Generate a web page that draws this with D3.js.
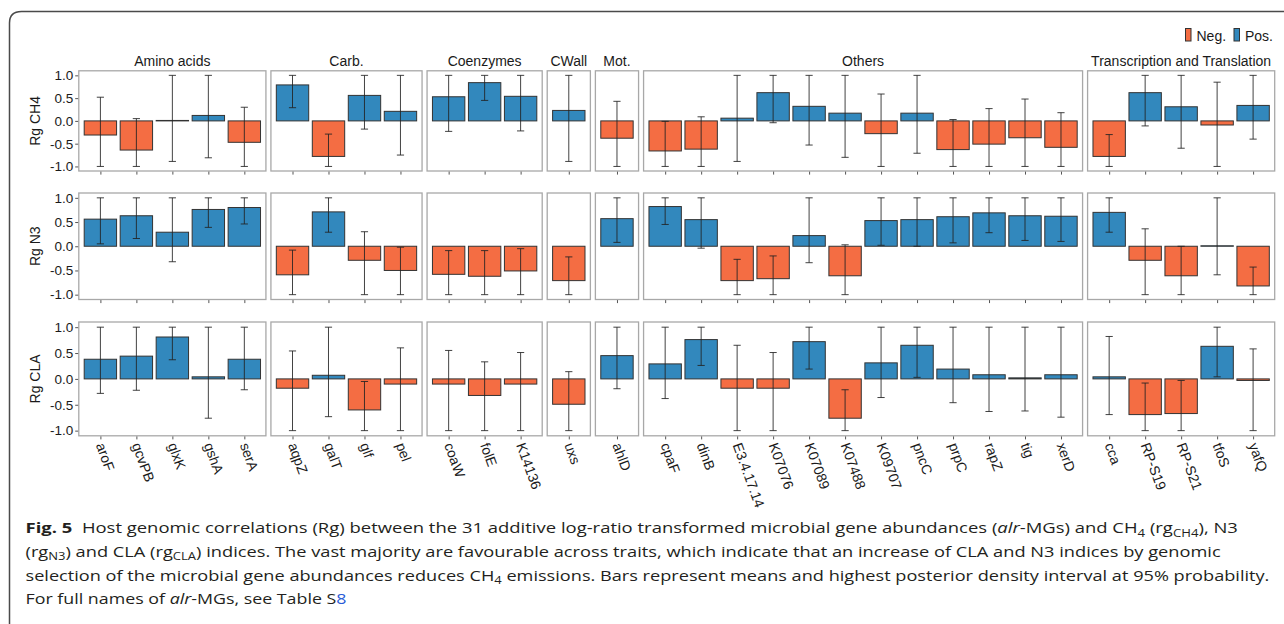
<!DOCTYPE html>
<html>
<head>
<meta charset="utf-8">
<script src="https://cdn.jsdelivr.net/npm/d3@7"></script>
<style>
  body { margin: 0; background: #fff; }
  svg { display: block; }
</style>
</head>
<body>
<svg id="chart" width="1284" height="624"></svg>
<script>
// ---- data -------------------------------------------------------------
const groups = ["Amino acids", "Carb.", "Coenzymes", "CWall", "Mot.", "Others", "Transcription and Translation"];
const groupSizes = [5, 4, 3, 1, 1, 12, 5];
const genes = ["aroF", "gcvPB", "glxK", "gshA", "serA",
  "aqpZ", "galT", "glf", "pel",
  "coaW", "folE", "K14136",
  "uxs",
  "ahlD",
  "cpaF", "dinB", "E3.4.17.14", "K07076", "K07089", "K07488", "K09707", "pncC", "prpC", "rapZ", "tig", "xerD",
  "cca", "RP-S19", "RP-S21", "tfoS", "yafQ"];
const traits = ["Rg CH4", "Rg N3", "Rg CLA"];
const yTicks = [-1.0, -0.5, 0.0, 0.5, 1.0];
const legendLabels = ["Neg.", "Pos."];

// posterior means and 95% HPD bounds, per gene
const rgCH4   = [-0.31, -0.64, 0.01, 0.12, -0.47,  0.79, -0.78, 0.56, 0.21,  0.53, 0.84, 0.54,  0.23,  -0.38,
  -0.66, -0.62, 0.06, 0.62, 0.32, 0.17, -0.28, 0.17, -0.63, -0.51, -0.37, -0.58,  -0.78, 0.62, 0.31, -0.09, 0.34];
const lowCH4  = [-1.00, -1.00, -0.89, -0.81, -1.00,  0.29, -1.00, -0.18, -0.75,  -0.23, 0.45, -0.22,  -0.89,  -1.00,
  -1.00, -1.00, -0.89, -0.04, -0.53, -0.80, -1.00, -0.71, -1.00, -1.00, -1.00, -1.00,  -1.00, -0.11, -0.60, -1.00, -0.40];
const highCH4 = [0.52, 0.05, 1.00, 1.00, 0.30,  1.00, -0.29, 1.00, 1.00,  1.00, 1.00, 1.00,  1.00,  0.43,
  -0.01, 0.09, 1.00, 1.00, 1.00, 1.00, 0.59, 1.00, 0.03, 0.27, 0.48, 0.18,  -0.30, 1.00, 1.00, 0.85, 1.00];

const rgN3   = [0.56, 0.63, 0.29, 0.76, 0.80,  -0.59, 0.71, -0.29, -0.50,  -0.58, -0.62, -0.51,  -0.71,  0.57,
  0.82, 0.55, -0.71, -0.67, 0.22, -0.61, 0.53, 0.55, 0.61, 0.69, 0.63, 0.62,  0.70, -0.29, -0.61, 0.01, -0.82];
const lowN3  = [0.05, 0.16, -0.32, 0.39, 0.46,  -1.00, 0.29, -1.00, -1.00,  -1.00, -1.00, -1.00,  -1.00,  0.08,
  0.45, -0.04, -1.00, -1.00, -0.34, -1.00, 0.02, 0.00, 0.07, 0.28, 0.12, 0.10,  0.29, -1.00, -1.00, -0.59, -1.00];
const highN3 = [1.00, 1.00, 1.00, 1.00, 1.00,  -0.08, 1.00, 0.30, -0.02,  -0.09, -0.09, -0.05,  -0.22,  1.00,
  1.00, 1.00, -0.27, -0.20, 1.00, 0.03, 1.00, 1.00, 1.00, 1.00, 1.00, 1.00,  1.00, 0.36, 0.00, 1.00, -0.43];

const rgCLA   = [0.38, 0.44, 0.81, 0.04, 0.38,  -0.18, 0.07, -0.60, -0.10,  -0.10, -0.32, -0.10,  -0.49,  0.45,
  0.29, 0.76, -0.18, -0.18, 0.72, -0.76, 0.31, 0.65, 0.19, 0.08, 0.02, 0.08,  0.04, -0.69, -0.67, 0.63, -0.03];
const lowCLA  = [-0.28, -0.22, 0.37, -0.76, -0.21,  -1.00, -0.73, -1.00, -1.00,  -1.00, -1.00, -1.00,  -1.00,  -0.19,
  -0.38, 0.26, -1.00, -1.00, 0.19, -1.00, -0.36, 0.03, -0.46, -0.63, -0.62, -0.74,  -0.69, -1.00, -1.00, 0.04, -1.00];
const highCLA = [1.00, 1.00, 1.00, 1.00, 1.00,  0.54, 1.00, -0.05, 0.60,  0.55, 0.33, 0.51,  0.14,  1.00,
  1.00, 1.00, 0.65, 0.51, 1.00, -0.21, 1.00, 1.00, 1.00, 1.00, 1.00, 1.00,  0.82, -0.08, -0.03, 1.00, 0.58];

const means = [rgCH4, rgN3, rgCLA];
const lows  = [lowCH4, lowN3, lowCLA];
const highs = [highCH4, highN3, highCLA];

// ---- layout & style ----------------------------------------------------
const colNeg = "#f46d43", colPos = "#3288bd";
const plotLeft = 78.8, plotRight = 1274.7, panelGap = 5;
const rowBoxes = [[70.8, 171], [193, 299.5], [322, 435.8]];
const plotFont = "'Liberation Sans', Arial, sans-serif";
const captionFont = "'Open Sans', 'Noto Sans', sans-serif";

const svg = d3.select("#chart");

// outer frame (left and top edges with a rounded corner)
svg.append("path")
  .attr("d", "M9.5,624 V23 Q9.5,11.5 21.5,11.5 H1284")
  .attr("fill", "none").attr("stroke", "#4a4a4a").attr("stroke-width", 1.5);

const totalUnits = d3.sum(groupSizes, n => n + 0.2);
const step = (plotRight - plotLeft - panelGap * (groupSizes.length - 1)) / totalUnits;
const barW = step * 0.9;
const capW = step * 0.2;

let cursor = plotLeft;
const panels = groups.map((name, i) => {
  const start = d3.sum(groupSizes.slice(0, i));
  const members = genes.slice(start, start + groupSizes[i]);
  const w = step * (groupSizes[i] + 0.2);
  const p = { name, members, start, x0: cursor, x1: cursor + w };
  p.x = d3.scalePoint().domain(members).range([p.x0, p.x1]).padding(0.6);
  cursor += w + panelGap;
  return p;
});

traits.forEach((trait, r) => {
  const [top, bottom] = rowBoxes[r];
  const y = d3.scaleLinear().domain([-1.1, 1.1]).range([bottom, top]);
  const row = svg.append("g").attr("class", "row");

  panels.forEach((p, pi) => {
    const g = row.append("g");
    g.append("rect")
      .attr("x", p.x0).attr("y", top)
      .attr("width", p.x1 - p.x0).attr("height", bottom - top)
      .attr("fill", "#fff");

    const rows = p.members.map((gene, k) => ({
      gene,
      v: means[r][p.start + k],
      lo: lows[r][p.start + k],
      hi: highs[r][p.start + k]
    }));

    g.selectAll("rect.bar").data(rows).join("rect")
      .attr("class", "bar")
      .attr("x", d => p.x(d.gene) - barW / 2)
      .attr("width", barW)
      .attr("y", d => Math.min(y(d.v), y(0)))
      .attr("height", d => Math.abs(y(d.v) - y(0)))
      .attr("fill", d => d.v < 0 ? colNeg : colPos)
      .attr("stroke", "#333").attr("stroke-width", 1);

    const eb = g.selectAll("g.err").data(rows).join("g")
      .attr("class", "err")
      .attr("stroke", "#222").attr("stroke-width", 1).attr("stroke-opacity", 0.85);
    eb.append("line")
      .attr("x1", d => p.x(d.gene)).attr("x2", d => p.x(d.gene))
      .attr("y1", d => y(d.lo)).attr("y2", d => y(d.hi));
    eb.append("line")
      .attr("x1", d => p.x(d.gene) - capW / 2).attr("x2", d => p.x(d.gene) + capW / 2)
      .attr("y1", d => y(d.lo)).attr("y2", d => y(d.lo));
    eb.append("line")
      .attr("x1", d => p.x(d.gene) - capW / 2).attr("x2", d => p.x(d.gene) + capW / 2)
      .attr("y1", d => y(d.hi)).attr("y2", d => y(d.hi));

    // panel border on top of the marks
    g.append("rect")
      .attr("x", p.x0).attr("y", top)
      .attr("width", p.x1 - p.x0).attr("height", bottom - top)
      .attr("fill", "none").attr("stroke", "#a8a8a8").attr("stroke-width", 1.3);

    // bottom tick marks
    const ax = g.append("g")
      .attr("transform", `translate(0,${bottom + 0.6})`)
      .call(d3.axisBottom(p.x).tickSize(3).tickFormat(""));
    ax.select(".domain").remove();
    ax.selectAll(".tick line").attr("stroke", "#555");

    // rotated gene labels under the last row
    if (r === traits.length - 1) {
      g.selectAll("text.gene").data(p.members).join("text")
        .attr("class", "gene")
        .attr("transform", d => `translate(${p.x(d)},${bottom + 7.5}) rotate(70)`)
        .attr("dy", "0.35em")
        .attr("text-anchor", "start")
        .attr("font-family", plotFont).attr("font-size", 14)
        .attr("fill", "#1a1a1a")
        .text(d => d);
    }

    // strip titles over the first row
    if (r === 0) {
      g.append("text")
        .attr("x", (p.x0 + p.x1) / 2).attr("y", 66)
        .attr("text-anchor", "middle")
        .attr("font-family", plotFont).attr("font-size", 14)
        .attr("fill", "#1a1a1a")
        .text(p.name);
    }

    // y axis on the leftmost panel
    if (pi === 0) {
      const ay = g.append("g")
        .attr("transform", `translate(${p.x0 - 0.6},0)`)
        .call(d3.axisLeft(y).tickValues(yTicks).tickFormat(d => d.toFixed(1)).tickSize(3).tickPadding(2));
      ay.select(".domain").remove();
      ay.selectAll(".tick line").attr("stroke", "#555");
      ay.selectAll(".tick text")
        .attr("font-family", plotFont).attr("font-size", 13.5).attr("fill", "#1a1a1a");
    }
  });

  row.append("text")
    .attr("transform", `translate(40,${(top + bottom) / 2}) rotate(-90)`)
    .attr("text-anchor", "middle")
    .attr("font-family", plotFont).attr("font-size", 14)
    .attr("fill", "#1a1a1a")
    .text(trait);
});

// legend
const legend = svg.append("g").attr("font-family", plotFont).attr("font-size", 14).attr("fill", "#1a1a1a");
const legendItems = [
  { label: legendLabels[0], color: colNeg, x: 1185.5 },
  { label: legendLabels[1], color: colPos, x: 1234 }
];
legendItems.forEach(it => {
  legend.append("rect")
    .attr("x", it.x).attr("y", 28.5).attr("width", 5.5).attr("height", 12.5)
    .attr("fill", it.color).attr("stroke", "#333").attr("stroke-width", 1);
  legend.append("text")
    .attr("x", it.x + 11).attr("y", 40.5)
    .text(it.label);
});

// ---- caption -----------------------------------------------------------
const captionLines = [
  { y: 533.3, width: 1212.8, parts: [
    { t: "Fig. 5", bold: true },
    { t: "\u00a0 Host genomic correlations (Rg) between the 31 additive log-ratio transformed microbial gene abundances (" },
    { t: "alr", italic: true },
    { t: "-MGs) and CH" }, { t: "4", sub: true },
    { t: " (rg" }, { t: "CH4", sub: true },
    { t: "), N3" }
  ]},
  { y: 556.9, width: 1196.2, parts: [
    { t: "(rg" }, { t: "N3", sub: true },
    { t: ") and CLA (rg" }, { t: "CLA", sub: true },
    { t: ") indices. The vast majority are favourable across traits, which indicate that an increase of CLA and N3 indices by genomic" }
  ]},
  { y: 580.7, width: 1244.5, parts: [
    { t: "selection of the microbial gene abundances reduces CH" }, { t: "4", sub: true },
    { t: " emissions. Bars represent means and highest posterior density interval at 95% probability." }
  ]},
  { y: 604.3, width: 321.2, parts: [
    { t: "For full names of " },
    { t: "alr", italic: true },
    { t: "-MGs, see Table S" },
    { t: "8", color: "#2a5bd7" }
  ]}
];

captionLines.forEach(line => {
  const g = svg.append("g").attr("transform", `translate(25.5,${line.y})`);
  const text = g.append("text")
    .attr("x", 0).attr("y", 0)
    .attr("font-family", captionFont).attr("font-size", 14)
    .attr("fill", "#231f20");
  let shifted = false;
  line.parts.forEach(pt => {
    const ts = text.append("tspan").text(pt.t);
    if (pt.bold) ts.attr("font-weight", 700);
    if (pt.italic) ts.attr("font-style", "italic");
    if (pt.color) ts.attr("fill", pt.color);
    if (pt.sub) {
      ts.attr("font-size", 10).attr("dy", shifted ? 0 : 3.5);
      shifted = true;
    } else if (shifted) {
      ts.attr("dy", -3.5);
      shifted = false;
    }
  });
  const natural = text.node().getComputedTextLength();
  const sx = line.width / natural;
  g.attr("transform", `translate(25.5,${line.y}) scale(${sx},1)`);
});
</script>
</body>
</html>
